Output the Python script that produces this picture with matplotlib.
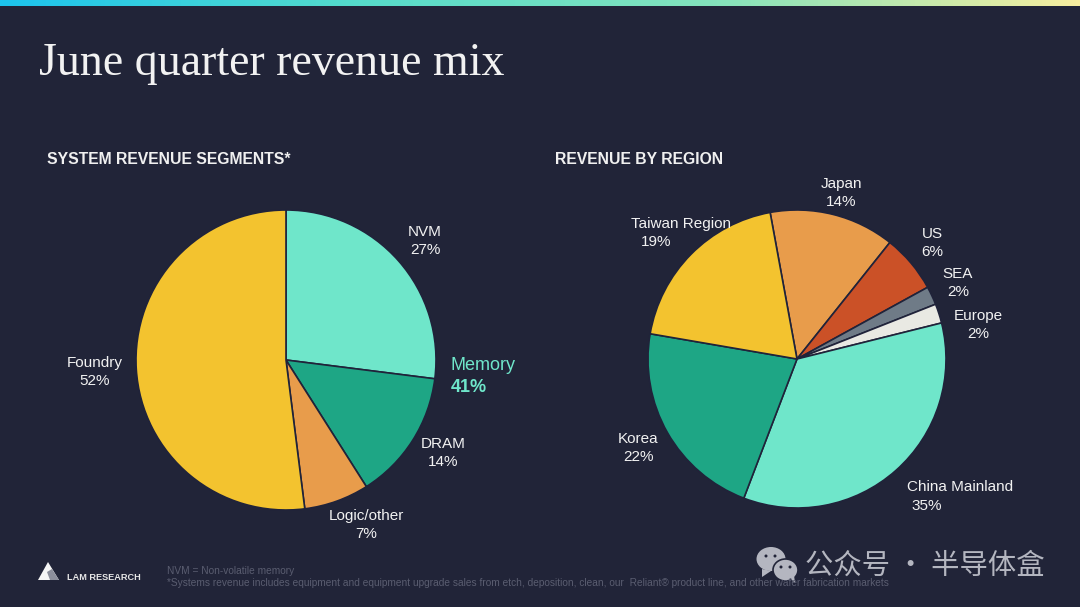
import numpy as np
import matplotlib
matplotlib.use("Agg")
import matplotlib.pyplot as plt
from matplotlib.colors import LinearSegmentedColormap
from matplotlib.patches import Polygon, Ellipse

# datos
segment_names = ["NVM", "DRAM", "Logic/other", "Foundry"]
segment_values = [27, 14, 7, 52]
segment_colors = ["#6FE6CA", "#1EA685", "#E89C4B", "#F3C32F"]

region_names = ["Japan", "US", "SEA", "Europe", "China Mainland", "Korea", "Taiwan Region"]
region_values = [14, 6, 2, 2, 35, 22, 19]  # lo que pone la etiqueta
region_shares = [13.6, 6.3, 2.0, 2.1, 34.7, 21.9, 19.4]  # lo que mide cada trozo en el dibujo
region_colors = ["#E89C4B", "#CB5127", "#6F7B87", "#E9E9E3", "#6FE6CA", "#1EA685", "#F3C32F"]

BG = "#212438"
W, H = 1080, 607

plt.rcParams["font.family"] = ["Liberation Sans", "DejaVu Sans"]

fig = plt.figure(figsize=(W / 100, H / 100), dpi=100, facecolor=BG)

# capa de fondo en pixeles, y hacia abajo como en la imagen
bg = fig.add_axes([0, 0, 1, 1])
bg.set_xlim(0, W)
bg.set_ylim(H, 0)
bg.axis("off")

franja = LinearSegmentedColormap.from_list("franja", ["#1CC4EE", "#56DCCB", "#85E3BC", "#F7EEA0"])
bg.imshow(np.linspace(0, 1, 256).reshape(1, -1), cmap=franja, extent=(0, W, 6, 0), aspect="auto")
bg.set_xlim(0, W)
bg.set_ylim(H, 0)


def pie_axes(cx, cy, r):
    # eje cuadrado para que la tarta quede en su sitio
    ax = fig.add_axes([(cx - r) / W, 1 - (cy + r) / H, 2 * r / W, 2 * r / H])
    ax.set_xlim(-1, 1)
    ax.set_ylim(-1, 1)
    ax.axis("off")
    return ax


ax1 = pie_axes(286, 360, 150)
ax1.pie(segment_values, colors=segment_colors, startangle=90, counterclock=False, radius=1,
        wedgeprops={"edgecolor": "#20233A", "linewidth": 1.2}, frame=False)
ax1.set_xlim(-1, 1)
ax1.set_ylim(-1, 1)

ax2 = pie_axes(797, 359, 149)
ax2.pie(region_shares, colors=region_colors, startangle=100.4, counterclock=False, radius=1,
        wedgeprops={"edgecolor": "#20233A", "linewidth": 1.2}, frame=False)
ax2.set_xlim(-1, 1)
ax2.set_ylim(-1, 1)

# textos encima de las tartas
top = fig.add_axes([0, 0, 1, 1])
top.set_xlim(0, W)
top.set_ylim(H, 0)
top.axis("off")
top.patch.set_alpha(0)

top.text(39, 64, "June quarter revenue mix", family="Liberation Serif", fontsize=33,
         color="#F2F2F2", va="center", ha="left")
top.text(47, 160, "SYSTEM REVENUE SEGMENTS*", fontsize=11.35, fontweight="bold", color="#F0F0F0", va="center")
top.text(555, 160, "REVENUE BY REGION", fontsize=11.35, fontweight="bold", color="#F0F0F0", va="center")

left_pos = {"NVM": (425, 241), "DRAM": (443, 453), "Logic/other": (366, 525), "Foundry": (95, 372)}
for n, v in zip(segment_names, segment_values):
    x, y = left_pos[n]
    top.text(x, y, f"{n}\n{v}%", fontsize=11, color="#F2F2F2", ha="center", va="center", linespacing=1.4)

right_pos = {"Japan": (841, 193), "US": (932, 243), "SEA": (958, 283), "Europe": (978, 325),
             "Korea": (638, 448)}
for n, v in zip(region_names, region_values):
    if n == "Taiwan Region":
        top.text(631, 224, n, fontsize=11, color="#F2F2F2", ha="left", va="center")
        top.text(656, 242, f"{v}%", fontsize=11, color="#F2F2F2", ha="center", va="center")
    elif n == "China Mainland":
        top.text(907, 487, n, fontsize=11, color="#F2F2F2", ha="left", va="center")
        top.text(927, 506, f"{v}%", fontsize=11, color="#F2F2F2", ha="center", va="center")
    else:
        x, y = right_pos[n]
        top.text(x, y, f"{n}\n{v}%", fontsize=11, color="#F2F2F2", ha="center", va="center", linespacing=1.4)

top.text(451, 366, "Memory", fontsize=13, color="#6FE6CA", va="center")
top.text(451, 388, "41%", fontsize=13, fontweight="bold", color="#6FE6CA", va="center")

# logo
top.add_patch(Polygon([(38, 580), (48, 562), (59, 580)], closed=True, color="#F5F5F5", lw=0))
top.add_patch(Polygon([(47, 572), (52, 569), (59, 580), (50, 580)], closed=True, color="#8C8F9C", lw=0))
top.text(67, 577, "LAM RESEARCH", fontsize=6.6, fontweight="bold", color="#E6E6E6", va="center")

# notas al pie
top.text(167, 571, "NVM = Non-volatile memory", fontsize=7.3, color="#5A5D70", va="center")
top.text(167, 583, "*Systems revenue includes equipment and equipment upgrade sales from etch, deposition, clean, our  "
         "Reliant® product line, and other wafer fabrication markets", fontsize=7.3, color="#5A5D70", va="center")

# marca de agua
gris = "#B4B6C0"
top.add_patch(Ellipse((771, 559), 29, 24, color=gris, lw=0))
top.add_patch(Polygon([(762, 569), (762, 577), (771, 571)], closed=True, color=gris, lw=0))
top.add_patch(Ellipse((785.5, 570), 25, 22, facecolor=gris, edgecolor=BG, lw=1.2))
top.add_patch(Polygon([(790, 578), (795, 583), (794, 575)], closed=True, color=gris, lw=0))
for ex, ey in [(766, 556), (775, 556)]:
    top.add_patch(Ellipse((ex, ey), 3, 3, color=BG, lw=0))
for ex, ey in [(781, 567), (790, 567)]:
    top.add_patch(Ellipse((ex, ey), 3, 3, color=BG, lw=0))
top.text(805, 566, "公众号 · 半导体盒", family=["Noto Sans CJK SC", "DejaVu Sans"], fontsize=20.4,
         color=gris, va="center", ha="left")

fig.savefig("out.png", dpi=100, facecolor=BG)
